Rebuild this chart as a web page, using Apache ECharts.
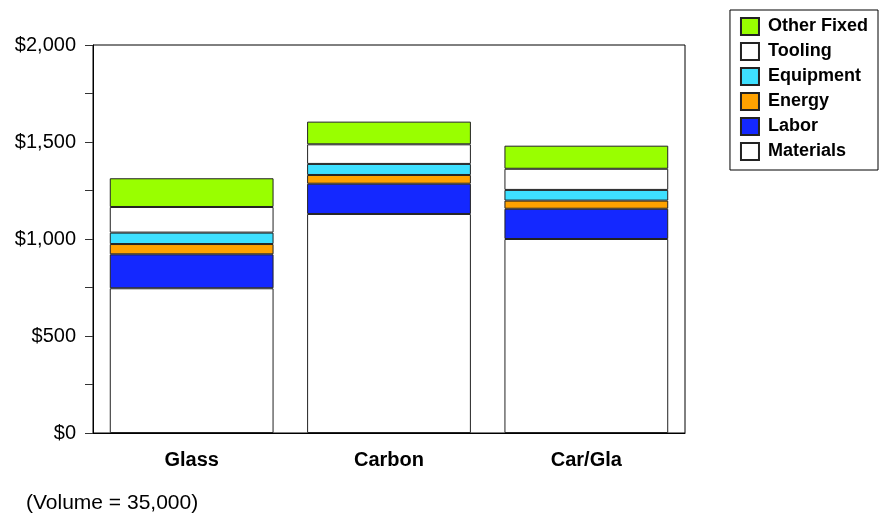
<!DOCTYPE html>
<html>
<head>
<meta charset="utf-8">
<script src="https://cdn.jsdelivr.net/npm/echarts@6/dist/echarts.min.js"></script>
<style>
  html, body { margin: 0; padding: 0; background: #fff; }
  #chart { width: 880px; height: 516px; }
</style>
</head>
<body>
<div id="chart"></div>
<script>
// Cost breakdown per part, stacked bottom to top
const categories = ['Glass', 'Carbon', 'Car/Gla'];
const materials  = [746, 1129, 1000];
const labor      = [175, 156, 156];
const energy     = [53, 45, 42];
const equipment  = [59, 57, 55];
const tooling    = [132, 101, 109];
const otherFixed = [148, 117, 119];
const yTicks = [0, 500, 1000, 1500, 2000];
const legendOrder = ['Other Fixed', 'Tooling', 'Equipment', 'Energy', 'Labor', 'Materials'];
const note = '(Volume = 35,000)';

const FONT = 'Liberation Sans, Arial, sans-serif';

function money(v) {
  return '$' + String(v).replace(/\B(?=(\d{3})+(?!\d))/g, ',');
}

function stackSeries(name, data, color) {
  return {
    name: name,
    type: 'bar',
    stack: 'cost',
    data: data,
    barWidth: '83%',
    itemStyle: { color: color, borderColor: '#222', borderWidth: 1 },
    emphasis: { disabled: true }
  };
}

const chart = echarts.init(document.getElementById('chart'), null, { renderer: 'canvas' });
chart.setOption({
  animation: false,
  backgroundColor: '#fff',
  grid: {
    left: 93, right: 195, top: 45, bottom: 83,
    show: true, borderColor: '#000', borderWidth: 1, backgroundColor: 'transparent'
  },
  legend: {
    data: legendOrder,
    orient: 'vertical',
    right: 2, top: 10,
    padding: [7, 10, 9, 10],
    borderColor: '#000', borderWidth: 1,
    itemWidth: 18, itemHeight: 17, itemGap: 6,
    icon: 'rect',
    selectedMode: false,
    textStyle: {
      fontFamily: FONT, fontSize: 18, fontWeight: 'bold', color: '#000',
      lineHeight: 18, padding: [0, 0, 0, 4]
    }
  },
  xAxis: {
    type: 'category',
    data: categories,
    axisLine: { lineStyle: { color: '#000', width: 1 } },
    axisTick: { inside: true, alignWithLabel: true, length: 12, lineStyle: { color: '#555' } },
    axisLabel: { fontFamily: FONT, fontSize: 20, fontWeight: 'bold', color: '#000', margin: 17 }
  },
  yAxis: {
    type: 'value',
    min: 0, max: 2000, interval: 250,
    splitLine: { show: false },
    axisLine: { show: true, lineStyle: { color: '#000', width: 1 } },
    axisTick: { show: true, length: 8, lineStyle: { color: '#333' } },
    axisLabel: {
      fontFamily: FONT, fontSize: 20, color: '#000', margin: 17,
      formatter: v => (yTicks.indexOf(v) >= 0 ? money(v) : '')
    }
  },
  series: [
    stackSeries('Materials', materials, '#ffffff'),
    stackSeries('Labor', labor, '#1428ff'),
    stackSeries('Energy', energy, '#ffa200'),
    stackSeries('Equipment', equipment, '#3ee0ff'),
    stackSeries('Tooling', tooling, '#ffffff'),
    stackSeries('Other Fixed', otherFixed, '#99ff00')
  ],
  graphic: [{
    type: 'text',
    left: 26, top: 493,
    style: { text: note, font: '21px ' + FONT, fill: '#000' }
  }]
});
</script>
</body>
</html>
